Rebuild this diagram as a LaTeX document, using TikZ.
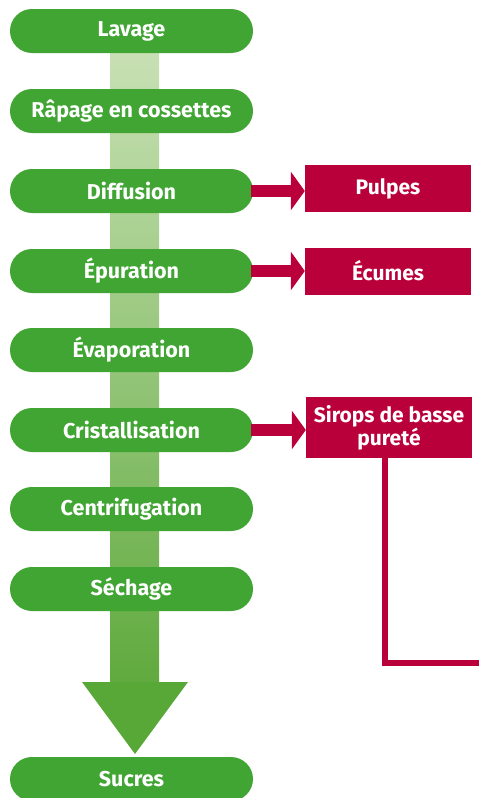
\documentclass[tikz,border=0pt]{standalone}
\usepackage{fontspec}
\setmainfont{Fira Sans}
\usetikzlibrary{arrows.meta}
\definecolor{pillgreen}{RGB}{64,165,50}
\definecolor{crim}{RGB}{186,0,58}
\definecolor{barlight}{RGB}{200,224,180}
\definecolor{bardark}{RGB}{96,170,62}
\definecolor{headgreen}{RGB}{88,168,56}
\begin{document}
\begin{tikzpicture}[x=1pt,y=-1pt,
  pill/.style={fill=pillgreen, text=white, rounded corners=22pt, minimum width=243pt, minimum height=44pt, inner sep=0pt, font=\bfseries\fontsize{21.5}{23}\selectfont},
  outbox/.style={fill=crim, text=white, minimum width=166pt, minimum height=47pt, inner sep=0pt, align=center, font=\bfseries\fontsize{21}{23}\selectfont},
  outarrow/.style={draw=crim, line width=12pt, -{Triangle[length=14pt,width=38pt]}},
  feedline/.style={draw=crim, line width=6pt}
]
\useasboundingbox (0,0) rectangle (479,798);
% central flow bar and arrowhead
\shade[top color=barlight, bottom color=bardark] (110,52) rectangle (159,683);
\fill[headgreen] (82,682) -- (188,682) -- (135,754) -- cycle;
% steps
\node[pill] (lav) at (131.5,31) {Lavage};
\node[pill] (rap) at (131.5,111) {Râpage en cossettes};
\node[pill] (dif) at (131.5,191) {Diffusion};
\node[pill] (epu) at (131.5,271) {Épuration};
\node[pill] (eva) at (131.5,350) {Évaporation};
\node[pill] (cri) at (131.5,430) {Cristallisation};
\node[pill] (cen) at (131.5,509) {Centrifugation};
\node[pill] (sec) at (131.5,589) {Séchage};
\node[pill] (suc) at (131.5,779) {Sucres};
% outputs
\node[outbox] (pul) at (388,188.5) {Pulpes};
\node[outbox] (ecu) at (388,271) {Écumes};
\node[outbox, minimum height=61pt] (sir) at (389,427.5) {Sirops de basse\\pureté};
\draw[outarrow] ([xshift=-2pt]dif.east) -- (dif.east -| pul.west);
\draw[outarrow] ([xshift=-2pt]epu.east) -- (epu.east -| ecu.west);
\draw[outarrow] ([xshift=-2pt]cri.east) -- (cri.east -| sir.west);
\coordinate (edge) at (479,663);
\draw[feedline] ([xshift=-4pt]sir.south) |- (edge);
\end{tikzpicture}
\end{document}
